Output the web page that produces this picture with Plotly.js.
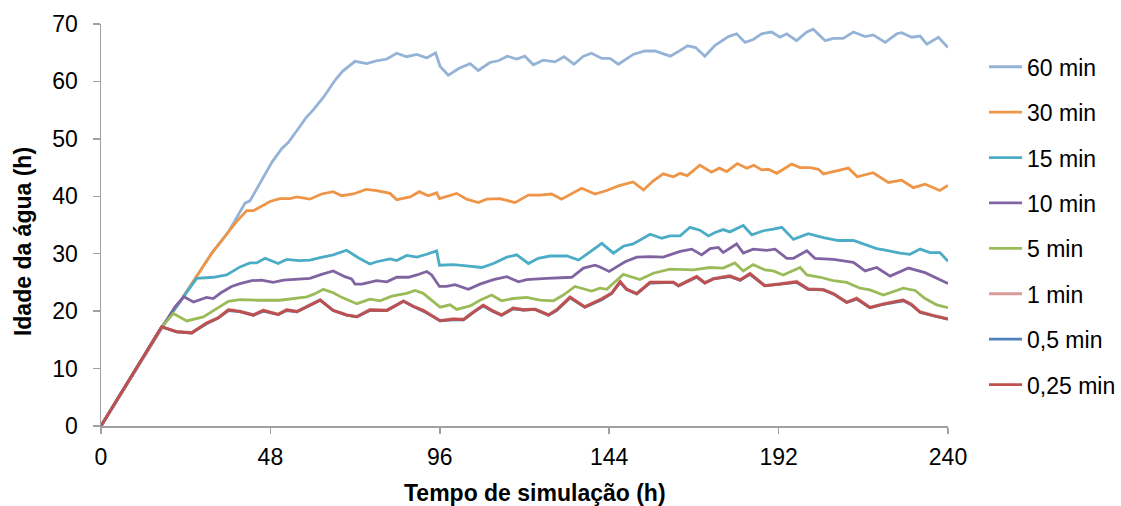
<!DOCTYPE html>
<html>
<head>
<meta charset="utf-8">
<script src="https://cdn.plot.ly/plotly-3.0.1.min.js"></script>
<style>
  html, body { margin: 0; padding: 0; background: #fff; }
  #chart { width: 1121px; height: 506px; }
</style>
</head>
<body>
<div id="chart"></div>
<script>
// Idade da água ao longo da simulação, para cada passo de tempo

const seriesNames = ['60 min', '30 min', '15 min', '10 min', '5 min', '1 min', '0,5 min', '0,25 min'];
const seriesColors = ['#95B3D7', '#EE9547', '#4BACC6', '#8064A2', '#9BBB59', '#DA9C9A', '#4F81BD', '#C0504D'];

const xTicks = [0, 48, 96, 144, 192, 240];

// 60 min
const h60 = [0, 17.2, 22, 26.6, 31.4, 36.1, 39.5, 40.8, 42.2, 46.0, 48.5, 51.2, 53.1, 56.4, 58.0, 60.2, 63.0, 66.3, 68.5, 72.0,
  75.3, 78.1, 81.0, 83.8, 86.6, 89.5, 92.3, 94.8, 96.1, 98.4, 101.5, 104.6, 106.9, 110.2, 112.6, 115.1, 117.8, 120.1, 122.5, 125.3,
  128.6, 131.2, 134.0, 136.7, 139.0, 141.9, 144.2, 146.6, 150.8, 154.1, 157.0, 159.8, 161.3, 163.6, 166.2, 168.5, 171.1, 174.0, 177.8, 180.1,
  182.5, 184.8, 187.2, 190.0, 192.4, 194.3, 197.1, 200.0, 201.8, 205.2, 207.5, 210.3, 213.2, 216.5, 218.8, 222.2, 225.5, 226.9, 229.7, 232.1,
  234.0, 237.3, 240];
const v60 = [0, 17.2, 21.3, 25.7, 30.1, 33.8, 37.5, 38.8, 39.2, 43.4, 46.0, 48.3, 49.4, 52.2, 53.6, 55.1, 57.2, 60.2, 61.8, 63.5,
  63.1, 63.6, 63.9, 64.9, 64.3, 64.7, 64.1, 65.0, 62.6, 61.1, 62.3, 63.1, 61.9, 63.3, 63.6, 64.4, 63.9, 64.4, 62.9, 63.7,
  63.4, 64.3, 63.0, 64.4, 64.9, 64.0, 64.0, 63.0, 64.7, 65.3, 65.3, 64.7, 64.4, 65.2, 66.2, 65.9, 64.4, 66.3, 67.8, 68.3,
  66.8, 67.3, 68.3, 68.6, 67.7, 68.3, 67.1, 68.6, 69.1, 67.1, 67.5, 67.5, 68.6, 67.8, 68.1, 66.8, 68.3, 68.5, 67.7, 67.9,
  66.5, 67.7, 65.9];

// 30 min
const h30 = [0, 17.2, 22, 26.6, 31.4, 35.1, 38.4, 41.3, 43.2, 47.9, 50.7, 53.6, 55.5, 59.2, 62.5, 65.8, 68.2, 71.5, 75.1, 78.1,
  81.9, 83.8, 87.6, 90.2, 92.7, 95.1, 95.9, 100.8, 103.6, 106.9, 109.3, 113.1, 117.3, 121.1, 124.4, 127.7, 130.5, 136.2, 140.0, 143.3,
  146.6, 150.8, 153.7, 156.5, 159.3, 162.2, 164.1, 166.1, 169.7, 173.0, 175.2, 177.3, 180.3, 183.0, 185.0, 187.2, 189.1, 191.5, 195.7, 198.1,
  200.9, 203.3, 204.7, 207.5, 211.8, 214.3, 218.8, 223.1, 226.9, 230.2, 233.5, 237.7, 240];
const v30 = [0, 17.2, 21.3, 25.7, 30.1, 33.0, 35.6, 37.5, 37.5, 39.1, 39.6, 39.6, 39.9, 39.5, 40.4, 40.8, 40.1, 40.4, 41.2, 41.0,
  40.5, 39.4, 39.9, 40.8, 40.1, 40.6, 39.6, 40.5, 39.5, 38.9, 39.5, 39.6, 38.9, 40.2, 40.2, 40.4, 39.5, 41.4, 40.4, 41.0,
  41.8, 42.5, 41.1, 42.7, 43.9, 43.4, 44.0, 43.6, 45.4, 44.2, 44.9, 44.3, 45.7, 44.9, 45.4, 44.6, 44.7, 44.0, 45.6, 45.0,
  45.0, 44.7, 43.9, 44.3, 44.9, 43.4, 44.1, 42.4, 42.8, 41.5, 42.1, 41.0, 41.9];

// 15 min
const h15 = [0, 17.2, 22, 24.3, 27.1, 31.8, 35.6, 39.4, 42.2, 44.1, 46.5, 50.2, 52.6, 56.0, 59.2, 62.1, 65.8, 69.6, 72.9, 76.2,
  78.1, 81.9, 83.8, 86.6, 89.5, 92.3, 95.1, 95.9, 99.8, 103.6, 107.9, 111.2, 115.0, 117.8, 121.1, 123.9, 127.2, 132.0, 135.3, 138.1,
  141.9, 145.2, 148.0, 150.8, 155.6, 158.9, 161.2, 164.1, 166.9, 169.7, 172.1, 174.0, 176.3, 178.2, 182.0, 184.4, 187.7, 190.5, 192.9, 196.2,
  200.4, 204.7, 208.9, 213.2, 217.0, 219.8, 222.6, 226.4, 229.2, 232.1, 234.9, 237.7, 240];
const v15 = [0, 17.2, 21.3, 23.3, 25.7, 25.9, 26.3, 27.7, 28.4, 28.4, 29.2, 28.3, 29.0, 28.8, 28.9, 29.3, 29.8, 30.6, 29.3, 28.2,
  28.6, 29.1, 28.8, 29.7, 29.4, 29.9, 30.5, 28.0, 28.1, 27.9, 27.6, 28.3, 29.4, 29.8, 28.3, 29.2, 29.6, 29.6, 28.9, 30.1,
  31.8, 30.1, 31.3, 31.7, 33.4, 32.7, 33.1, 33.1, 34.6, 34.1, 33.1, 33.7, 34.2, 33.8, 34.9, 33.3, 34.0, 34.3, 34.6, 32.5,
  33.5, 32.8, 32.3, 32.3, 31.5, 30.9, 30.6, 30.1, 29.9, 30.8, 30.2, 30.2, 28.7];

// 10 min
const h10 = [0, 17.2, 21.0, 23.5, 26.2, 29.9, 31.8, 34.0, 37.0, 39.4, 42.7, 45.5, 48.8, 51.7, 55.5, 59.2, 62.5, 65.8, 69.1, 71.0,
  72.0, 73.9, 78.1, 81.0, 83.8, 87.1, 89.5, 92.3, 93.7, 95.9, 97.9, 100.3, 104.1, 107.4, 111.2, 115.0, 118.3, 120.6, 126.3, 133.4,
  136.7, 140.0, 141.4, 144.0, 148.5, 151.8, 155.6, 159.3, 164.1, 167.4, 170.2, 172.6, 174.9, 176.3, 180.1, 182.0, 184.8, 188.6, 191.0, 194.3,
  196.2, 200.0, 202.3, 207.5, 213.2, 216.5, 219.8, 223.6, 228.8, 233.5, 240];
const v10 = [0, 17.2, 20.8, 22.5, 21.6, 22.4, 22.2, 23.2, 24.3, 24.8, 25.3, 25.4, 25.0, 25.4, 25.5, 25.7, 26.4, 27.0, 26.0, 25.6,
  24.7, 24.7, 25.3, 25.1, 25.9, 25.9, 26.3, 26.9, 26.3, 24.3, 24.3, 24.6, 23.8, 24.7, 25.5, 26.0, 25.1, 25.5, 25.7, 25.9,
  27.5, 28.0, 27.7, 26.9, 28.6, 29.4, 29.5, 29.4, 30.4, 30.8, 29.8, 30.9, 31.1, 30.2, 31.7, 30.1, 30.8, 30.6, 30.8, 29.2,
  29.2, 30.5, 29.2, 29.0, 28.5, 27.0, 27.6, 26.1, 27.5, 26.7, 24.8];

// 5 min
const h5 = [0, 17.2, 20.5, 24.3, 29.0, 32.8, 36.1, 39.4, 44.1, 50.7, 55.5, 58.3, 60.5, 63.0, 65.8, 68.2, 72.5, 76.2, 79.1, 82.4,
  86.6, 89.0, 91.3, 93.7, 96.1, 98.9, 100.8, 104.6, 107.4, 110.7, 113.5, 116.8, 120.6, 124.4, 128.2, 131.0, 134.3, 139.0, 141.4, 143.3,
  148.0, 152.7, 156.5, 161.2, 167.8, 172.6, 176.3, 179.6, 182.0, 184.8, 188.1, 190.5, 193.3, 198.1, 200.0, 203.8, 207.5, 211.3, 215.1, 217.9,
  221.7, 227.3, 230.7, 233.5, 236.8, 240];
const v5 = [0, 17.2, 19.6, 18.3, 19.0, 20.4, 21.7, 22.0, 21.9, 21.9, 22.2, 22.5, 23.0, 23.8, 23.2, 22.4, 21.3, 22.1, 21.8, 22.6,
  23.1, 23.6, 23.1, 21.9, 20.7, 21.1, 20.3, 20.9, 21.9, 22.8, 21.8, 22.2, 22.4, 21.9, 21.8, 22.8, 24.3, 23.5, 24.0, 23.8,
  26.4, 25.5, 26.6, 27.3, 27.2, 27.6, 27.5, 28.4, 27.0, 28.1, 27.2, 27.0, 26.3, 27.6, 26.3, 25.9, 25.3, 25.0, 24.0, 23.7,
  22.8, 24.0, 23.6, 22.2, 21.1, 20.6];

// 1 min, 0,5 min e 0,25 min (mesmos instantes)
const hFine = [0, 17.2, 21.4, 25.7, 29.9, 33.2, 36.1, 39.4, 43.2, 46.0, 50.2, 52.6, 55.5, 58.3, 62.1, 65.8, 69.6, 72.5, 76.2, 81.0,
  85.7, 88.5, 91.3, 94.2, 96.1, 99.8, 102.7, 105.5, 108.3, 111.0, 113.5, 116.8, 119.7, 123.0, 126.8, 129.1, 132.9, 137.1, 141.9, 144.7,
  147.1, 148.9, 151.8, 155.6, 162.2, 163.6, 168.8, 171.1, 173.5, 178.2, 181.1, 183.9, 188.1, 192.4, 197.1, 200.4, 204.7, 207.5, 211.3, 214.1,
  217.9, 221.7, 227.3, 229.7, 232.1, 235.8, 240];
const v1 = [0, 17.2, 16.5, 16.3, 18.0, 18.9, 20.3, 20.0, 19.4, 20.2, 19.5, 20.3, 20.0, 20.9, 22.0, 20.2, 19.4, 19.1, 20.3, 20.2,
  21.8, 20.9, 20.2, 19.1, 18.4, 18.7, 18.6, 19.9, 21.1, 20.1, 19.4, 20.6, 20.3, 20.4, 19.4, 20.3, 22.5, 20.8, 22.2, 23.2,
  25.2, 23.9, 23.1, 25.1, 25.1, 24.5, 26.1, 25.0, 25.7, 26.2, 25.5, 26.6, 24.5, 24.8, 25.2, 23.9, 23.8, 23.1, 21.6, 22.3,
  20.7, 21.3, 22.0, 21.2, 19.9, 19.3, 18.7];
const v05 = [0, 17.3, 16.4, 16.2, 17.8, 18.8, 20.1, 19.9, 19.3, 20.0, 19.4, 20.1, 19.9, 20.7, 21.9, 20.1, 19.3, 19.0, 20.1, 20.1,
  21.7, 20.8, 20.0, 19.0, 18.3, 18.5, 18.5, 19.8, 20.9, 20.0, 19.3, 20.4, 20.2, 20.3, 19.3, 20.1, 22.3, 20.7, 22.0, 23.1,
  25.0, 23.8, 23.0, 24.9, 25.0, 24.4, 25.9, 24.9, 25.6, 26.0, 25.4, 26.4, 24.4, 24.7, 25.0, 23.8, 23.7, 23.0, 21.5, 22.1,
  20.6, 21.2, 21.8, 21.1, 19.8, 19.2, 18.6];
const v025 = [0, 17.3, 16.4, 16.2, 17.9, 18.8, 20.2, 19.9, 19.3, 20.1, 19.4, 20.2, 19.9, 20.8, 21.9, 20.1, 19.3, 19.0, 20.2, 20.1,
  21.7, 20.8, 20.1, 19.0, 18.3, 18.6, 18.5, 19.8, 21.0, 20.0, 19.3, 20.5, 20.2, 20.3, 19.3, 20.2, 22.4, 20.7, 22.1, 23.1,
  25.1, 23.8, 23.0, 25.0, 25.0, 24.4, 26.0, 24.9, 25.6, 26.1, 25.4, 26.5, 24.4, 24.7, 25.1, 23.8, 23.7, 23.0, 21.5, 22.2,
  20.6, 21.2, 21.9, 21.1, 19.8, 19.2, 18.6];

const xs = [h60, h30, h15, h10, h5, hFine, hFine, hFine];
const ys = [v60, v30, v15, v10, v5, v1, v05, v025];

const FONT = 'Liberation Sans, Arial, Helvetica, sans-serif';
const AXIS_GRAY = '#a0a0a0';

const traces = seriesNames.map((name, i) => ({
  type: 'scatter',
  mode: 'lines',
  name: name,
  legendgroup: name,
  x: xs[i],
  y: ys[i],
  line: { color: seriesColors[i], width: 2.8 },
  hoverinfo: 'x+y+name'
}));

const layout = {
  width: 1121,
  height: 506,
  margin: { l: 101, r: 173, t: 24, b: 80, pad: 0, autoexpand: false },
  paper_bgcolor: '#ffffff',
  plot_bgcolor: '#ffffff',
  font: { family: FONT, size: 23, color: '#000000' },
  showlegend: true,
  legend: {
    x: 1.0425, xanchor: 'left',
    y: 0.947, yanchor: 'top',
    font: { family: FONT, size: 23, color: '#000000' },
    tracegroupgap: 12.5,
    itemwidth: 33,
    bgcolor: 'rgba(0,0,0,0)',
    borderwidth: 0
  },
  xaxis: {
    range: [0, 240],
    tickmode: 'array',
    tickvals: xTicks,
    ticktext: xTicks.map(String),
    ticks: 'outside',
    ticklen: 6,
    tickwidth: 1.5,
    tickcolor: AXIS_GRAY,
    showline: true,
    linecolor: AXIS_GRAY,
    linewidth: 1.5,
    showgrid: false,
    zeroline: false,
    ticklabelstandoff: 4,
    tickfont: { family: FONT, size: 23, color: '#000000' }
  },
  yaxis: {
    range: [0, 70],
    tick0: 0,
    dtick: 10,
    ticks: 'outside',
    ticklen: 7,
    tickwidth: 1.5,
    tickcolor: AXIS_GRAY,
    showline: true,
    linecolor: AXIS_GRAY,
    linewidth: 1.5,
    showgrid: false,
    zeroline: false,
    ticklabelstandoff: 10,
    tickfont: { family: FONT, size: 23, color: '#000000' }
  },
  annotations: [
    {
      text: '<b>Tempo de simulação (h)</b>',
      xref: 'paper', yref: 'paper',
      x: 0.5124, y: -0.1667,
      xanchor: 'center', yanchor: 'middle',
      showarrow: false,
      font: { family: FONT, size: 23, color: '#000000' }
    },
    {
      text: '<b>Idade da água (h)</b>',
      xref: 'paper', yref: 'paper',
      x: -0.0921, y: 0.46,
      xanchor: 'center', yanchor: 'middle',
      textangle: -90,
      showarrow: false,
      font: { family: FONT, size: 23, color: '#000000' }
    }
  ]
};

Plotly.newPlot('chart', traces, layout, { displayModeBar: false, staticPlot: true });
</script>
</body>
</html>
